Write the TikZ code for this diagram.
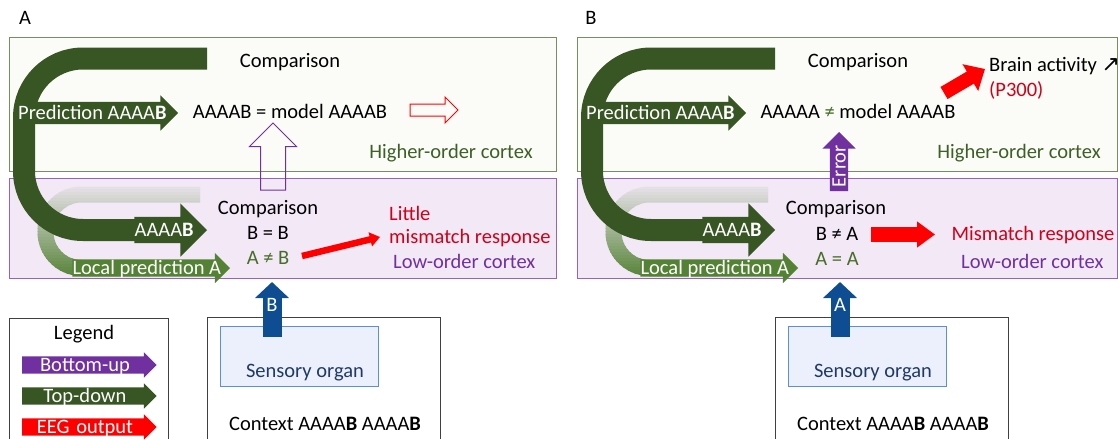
\documentclass[tikz,border=0pt]{standalone}
\usepackage{fontspec}
\setmainfont{Carlito}
\newfontfamily\symfont{DejaVu Sans}
\usetikzlibrary{shapes.arrows,arrows.meta}

\definecolor{topdown}{HTML}{375623}
\definecolor{localgreen}{HTML}{548235}
\definecolor{bottomup}{HTML}{7030A0}
\definecolor{eegred}{HTML}{FF0000}
\definecolor{textred}{HTML}{D00018}
\definecolor{hifill}{HTML}{FBFCF7}
\definecolor{hiline}{HTML}{74905F}
\definecolor{lofill}{HTML}{F2E8F6}
\definecolor{loline}{HTML}{9364BC}
\definecolor{hitext}{HTML}{3E6027}
\definecolor{eqgreen}{HTML}{466E26}
\definecolor{senseblue}{HTML}{0F4D92}
\definecolor{sensefill}{HTML}{EBF0FC}
\definecolor{senseline}{HTML}{5B8FD8}
\definecolor{sensetext}{HTML}{1F3A68}
\definecolor{contextline}{HTML}{404040}
\newcommand{\lblfont}{\fontsize{20.5}{24}\selectfont}

\begin{document}
\begin{tikzpicture}[x=1pt, y=-1pt]
      \tikzstyle{lbl}=[font=\lblfont, inner sep=0pt, text height=15pt, text depth=4pt]
      \tikzstyle{layer}=[draw, line width=1pt, inner sep=0pt, anchor=north west]
      \tikzstyle{block arrow}=[single arrow, font=\lblfont, text=white, inner sep=0pt, outer sep=0pt]
      \tikzstyle{hollow arrow}=[single arrow, line width=1pt, inner sep=0pt, outer sep=0pt]

      \useasboundingbox (0,0) rectangle (1118,439);

      % Draw the cortex layers
      \node[layer, draw=hiline, fill=hifill, minimum width=547pt, minimum height=134pt] (hi-A) at (9,37) {};
      \node[layer, draw=loline, fill=lofill, minimum width=547pt, minimum height=100pt] (lo-A) at (9,178) {};
      \node[layer, draw=hiline, fill=hifill, minimum width=540pt, minimum height=134pt] (hi-B) at (577,37) {};
      \node[layer, draw=loline, fill=lofill, minimum width=540pt, minimum height=100pt] (lo-B) at (577,178) {};

      \node[lbl] (tag-A) at (25,19) {A};
      \node[lbl] (tag-B) at (591,19) {B};

      % Draw what both panels share
      \foreach \dx/\p/\inp in {0/A/B,568/B/A} {
          % local prediction, fading out towards the top
          \coordinate (lfade-\p) at (\dx+200,194.5);
          \coordinate (lfoot-\p) at (\dx+150,268);
          \foreach \i in {0,...,30} {
              \pgfmathtruncatemacro\mixpct{8+92*\i/30}
              \colorlet{slicecol}{localgreen!\mixpct!lofill}
              \begin{scope}
                  \clip (\dx,186+3*\i) rectangle (\dx+300,189.6+3*\i);
                  \draw[slicecol, line width=16pt, rounded corners=36pt]
                      (lfade-\p) -- (\dx+45.5,194.5) -- (\dx+45.5,268) -- (lfoot-\p);
              \end{scope}
          }
          \node[block arrow, fill=localgreen, single arrow head extend=6.5pt,
                text height=15.1pt, text depth=1.9pt, anchor=tip] (local-\p) at (\dx+230,268) {Local prediction A};

          % top-down prediction coming back from the higher cortex
          \coordinate (dtop-\p) at (\dx+207,58.5);
          \coordinate (dfoot-\p) at (\dx+165,230);
          \draw[topdown, line width=22pt, rounded corners=59pt]
              (dtop-\p) -- (\dx+24,58.5) -- (\dx+24,230) -- (dfoot-\p);
          \node[block arrow, fill=topdown, single arrow head extend=13.5pt,
                text height=19.6pt, text depth=6.4pt, anchor=tip] (aaaab-\p) at (\dx+207,230) {AAAA\textbf{B}};
          \node[block arrow, fill=topdown, single arrow head extend=6.5pt,
                text height=17.6pt, text depth=4.4pt, anchor=tip] (pred-\p) at (\dx+178,113) {Prediction AAAA\textbf{B}};

          % comparisons and layer names
          \node[lbl] (cmp-hi-\p) at (\dx+290,62) {Comparison};
          \node[lbl] (cmp-lo-\p) at (\dx+268,209) {Comparison};
          \node[lbl, text=hitext] (hi-name-\p) at (\dx+451,153) {Higher-order cortex};
          \node[lbl, text=bottomup, anchor=west] (lo-name-\p) at (\dx+393,263) {Low-order cortex};

          % context and sensory organ
          \draw[contextline, line width=1pt] (\dx+207,439) |- (\dx+440,317) -- (\dx+440,439);
          \node[layer, draw=senseline, fill=sensefill, minimum width=158pt, minimum height=60pt] (sense-\p) at (\dx+220,326) {};
          \node[lbl, text=sensetext] (sense-name-\p) at (\dx+305,372) {Sensory organ};
          \node[lbl] (context-\p) at (\dx+325,425) {Context AAAA\textbf{B} AAAA\textbf{B}};
          \coordinate (ear-\p) at (\dx+272,337);
          \coordinate (ear-top-\p) at (\dx+272,282);
          \draw[senseblue, line width=19pt, -{Triangle[length=16pt,width=33pt]}] (ear-\p) -- (ear-top-\p);
          \node[lbl, text=white] (stim-\p) at (\dx+272,306) {\inp};
      }

      % Panel A: expected deviant
      \node[lbl] (match-A) at (290,113) {AAAAB = model AAAAB};
      \node[hollow arrow, draw=eegred, inner ysep=5.5pt, single arrow head extend=7pt,
            minimum height=48pt, anchor=tip] (out-hi-A) at (458,110) {};
      \node[hollow arrow, draw=bottomup, inner ysep=12pt, single arrow head extend=11pt,
            minimum height=67pt, rotate=90, anchor=tip] (up-A) at (273,123) {};
      \node[lbl] (eq-A) at (268,234) {B = B};
      \node[lbl, text=eqgreen] (neq-A) at (268,259) {A ≠ B};
      \node[lbl, text=textred, anchor=west] (little-A) at (389,215) {Little};
      \node[lbl, text=textred, anchor=west] (mm-A) at (389,238) {mismatch response};
      \coordinate (eeg-s-A) at (302,256);
      \coordinate (eeg-e-A) at (380,237);
      \draw[eegred, line width=6.5pt, -{Triangle[length=10pt,width=14pt]}] (eeg-s-A) -- (eeg-e-A);

      % Panel B: unexpected standard
      \node[lbl] (match-B) at (858,113) {AAAAA {\color{eqgreen}≠} model AAAAB};
      \node[block arrow, fill=bottomup, rotate=90, single arrow head extend=7.5pt, text width=49.5pt,
            align=center, text height=15.6pt, text depth=2.4pt, anchor=tip] (error-B) at (839,132) {Error};
      \node[lbl, anchor=west] (brain-B) at (989,66) {Brain activity {\symfont\fontsize{22}{24}\selectfont ↗}};
      \node[lbl, text=textred, anchor=west] (p300-B) at (989,91) {(P300)};
      \coordinate (p3-s-B) at (944,93);
      \coordinate (p3-e-B) at (985,69);
      \draw[eegred, line width=14pt, -{Triangle[length=17pt,width=30pt]}] (p3-s-B) -- (p3-e-B);
      \node[lbl] (neq-B) at (837,235) {B ≠ A};
      \node[lbl, text=eqgreen] (eq-B) at (837,260) {A = A};
      \coordinate (mm-s-B) at (871,234.5);
      \coordinate (mm-e-B) at (935,234.5);
      \draw[eegred, line width=15pt, -{Triangle[length=18pt,width=25pt]}] (mm-s-B) -- (mm-e-B);
      \node[lbl, text=textred] (mm-B) at (1033,235) {Mismatch response};

      % Legend
      \draw[contextline, line width=1pt] (9,439) |- (168,318) -- (168,439);
      \node[lbl] (legend) at (84,334) {Legend};
      \foreach \name/\col/\y in {Bottom-up/bottomup/365,Top-down/topdown/396,EEG output/eegred/427}
          \node[block arrow, fill=\col, single arrow head extend=4pt, text width=125.5pt, align=center,
                text height=15.1pt, text depth=1.9pt, anchor=tail] (key-\y) at (22,\y) {\name};
\end{tikzpicture}
\end{document}
